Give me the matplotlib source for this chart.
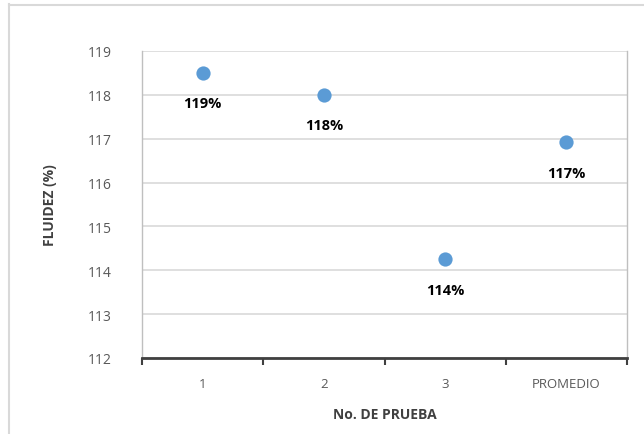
import matplotlib
matplotlib.use("Agg")
import matplotlib.pyplot as plt
from matplotlib.lines import Line2D

categories = ["1", "2", "3", "PROMEDIO"]
values = [118.5, 118.0, 114.25, 116.92]
labels = ["119%", "118%", "114%", "117%"]
yticks = [112, 113, 114, 115, 116, 117, 118, 119]

plt.rcParams['font.family'] = ['Open Sans', 'DejaVu Sans']

W, H = 644, 435
fig = plt.figure(figsize=(W/100, H/100), dpi=100)
ax = fig.add_axes([142/W, 1-359/H, (627-142)/W, (359-52)/H])

x = list(range(len(categories)))
ax.scatter(x, values, s=105, color="#5B9BD5", zorder=3, linewidths=0)
for xi, v, lab in zip(x, values, labels):
    ax.annotate(lab, (xi, v), xytext=(0, -22), textcoords="offset points",
                ha="center", va="center", fontsize=10.5, fontweight="bold", color="#000000")

ax.set_xlim(-0.5, len(categories)-0.5)
ax.set_ylim(112, 119)
ax.set_yticks(yticks)
ax.set_yticklabels([str(t) for t in yticks])
ax.yaxis.grid(True, color="#D9D9D9", lw=1.2)
ax.set_axisbelow(True)
ax.tick_params(axis="y", length=0, pad=22, labelsize=10, labelcolor="#595959")

ax.set_xticks([i for i in x])
ax.set_xticklabels(categories)
ax.set_xticks([i - 0.5 for i in range(len(categories)+1)], minor=True)
ax.tick_params(axis="x", which="major", length=0, pad=14, labelsize=9.5, labelcolor="#595959")
ax.tick_params(axis="x", which="minor", length=5, width=1.5, color="#404040", direction="out")

ax.spines["top"].set_visible(False)
for s in ["left", "right"]:
    ax.spines[s].set_color("#BFBFBF")
    ax.spines[s].set_linewidth(1.0)
ax.spines["bottom"].set_color("#404040")
ax.spines["bottom"].set_linewidth(2.0)

ax.set_xlabel("No. DE PRUEBA", fontsize=10, fontweight="bold", color="#404040", labelpad=12)
ax.set_ylabel("FLUIDEZ (%)", fontsize=10, fontweight="bold", color="#404040", labelpad=22)

# outer frame (top and left visible)
fig.add_artist(Line2D([9/W, 9/W], [0, 1-5/H], transform=fig.transFigure, color="#D9D9D9", lw=1.5))
fig.add_artist(Line2D([9/W, 1], [1-6/H, 1-6/H], transform=fig.transFigure, color="#D9D9D9", lw=1.5))

fig.savefig("out.png", dpi=100)
